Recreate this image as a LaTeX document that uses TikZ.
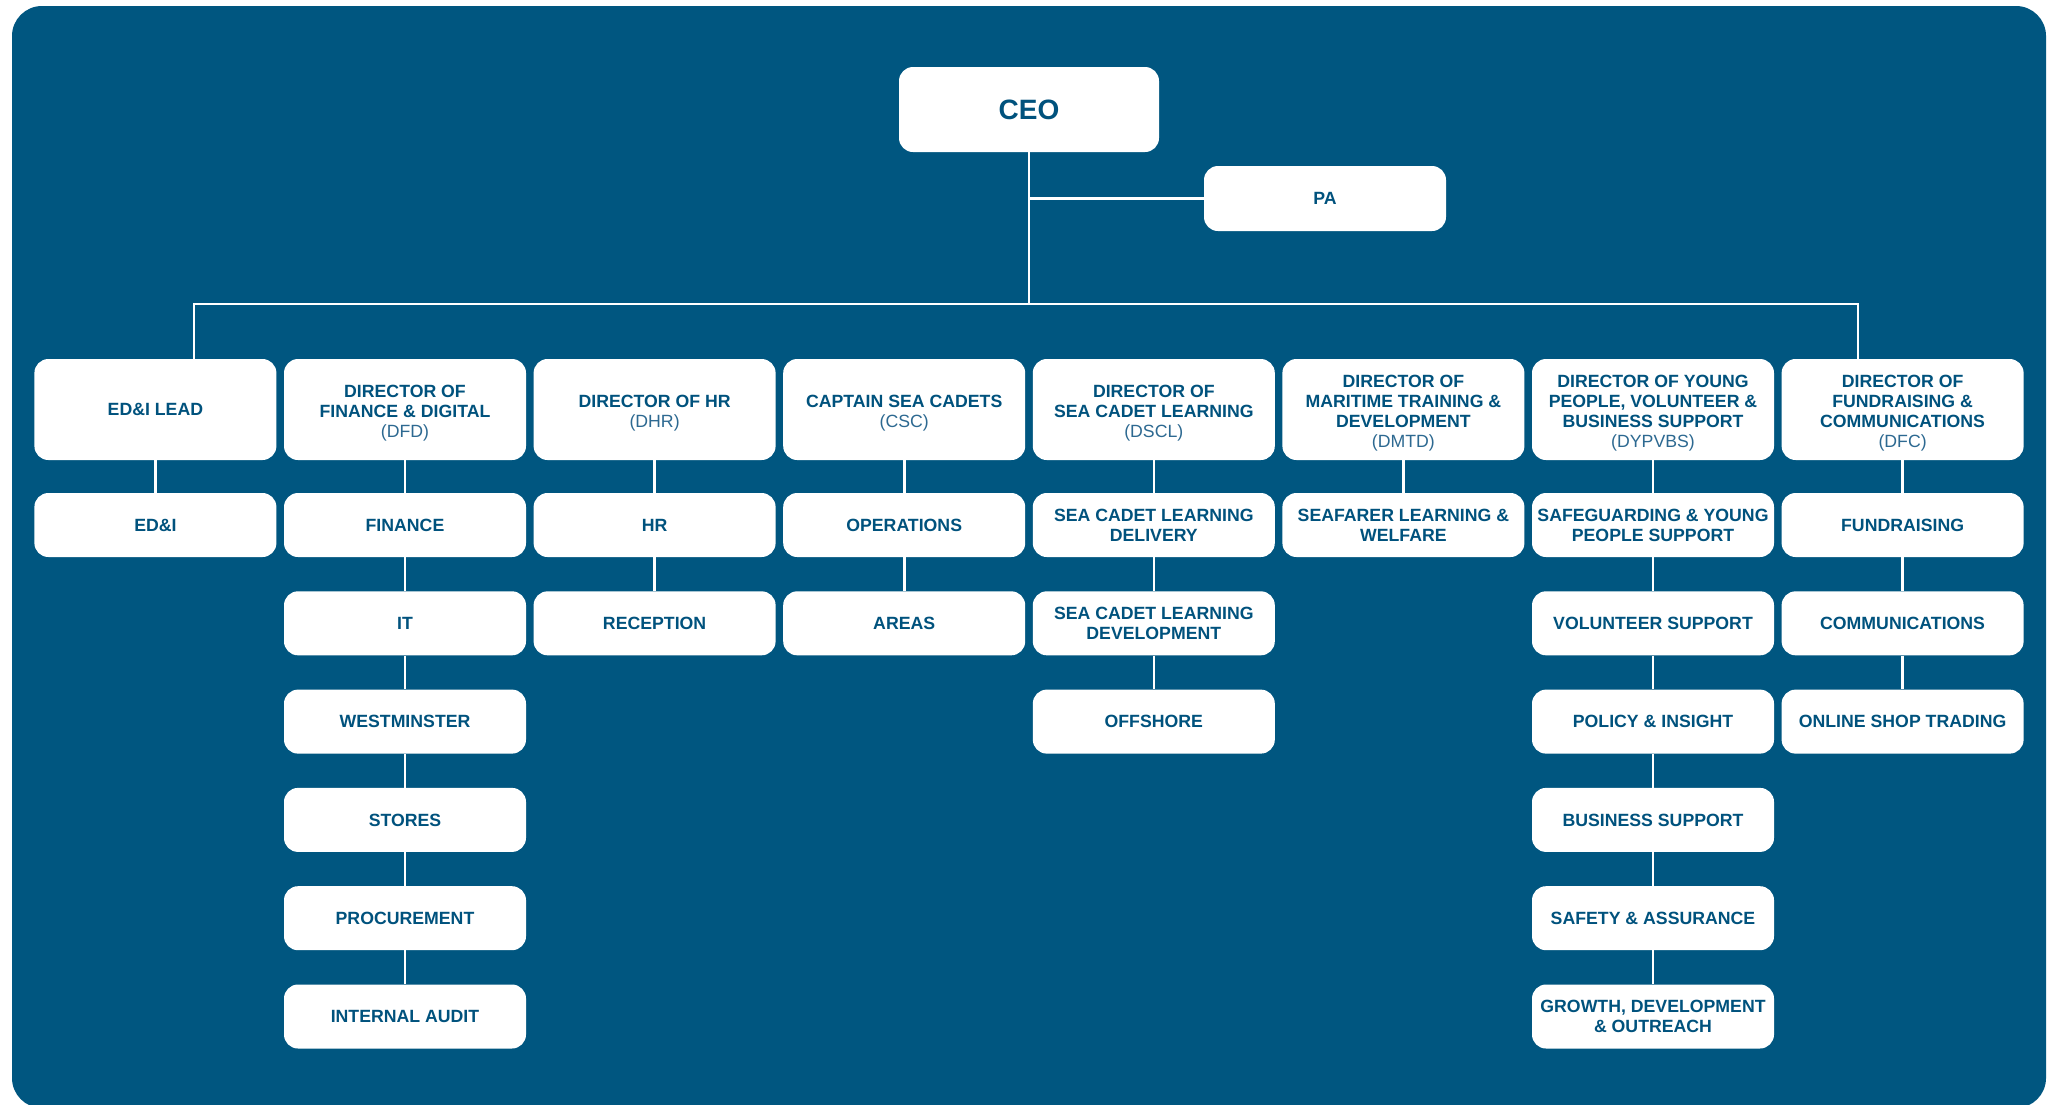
\documentclass[tikz,border=0pt]{standalone}
\usepackage{fontspec}
\setmainfont{Liberation Sans}
\definecolor{bg}{RGB}{0,86,128}
\definecolor{txt}{RGB}{0,82,125}
\definecolor{abbr}{RGB}{45,105,145}
\tikzset{
  box/.style={fill=white, rounded corners=14pt, minimum width=242pt, inner sep=0pt,
    align=center, text=txt, font=\bfseries\fontsize{17.7}{20}\selectfont},
  dirbox/.style={box, minimum height=101pt},
  subbox/.style={box, minimum height=64pt},
  link/.style={draw=white, line width=2.6pt},
}
\newcommand{\abv}[1]{{\mdseries\color{abbr}#1}}
\newcommand{\lowr}{\rule{0pt}{19pt}}
\begin{document}
\begin{tikzpicture}[x=1pt,y=-1pt]
\useasboundingbox (0,0) rectangle (2055,1104);
\begin{scope}
  \clip (0,0) rectangle (2055,1104);
  \fill[white] (0,0) rectangle (2055,1104);
  \fill[bg, rounded corners=30pt] (12,6) rectangle (2046,1108);
\end{scope}

% CEO and PA
\node[box, minimum width=260pt, minimum height=85pt, font=\bfseries\fontsize{28}{32}\selectfont] (ceo) at (1029,109.5) {CEO};
\node[box, minimum height=65pt] (pa) at (1325,198.5) {PA};

% Directors
\node[dirbox] (edl)  at (155.4,409.5)  {ED\&I LEAD};
\node[dirbox] (dfd)  at (405.0,409.5)  {\lowr DIRECTOR OF\\FINANCE \& DIGITAL\\\abv{(DFD)}};
\node[dirbox] (dhr)  at (654.6,409.5)  {\lowr DIRECTOR OF HR\\\abv{(DHR)}};
\node[dirbox] (csc)  at (904.2,409.5)  {\lowr CAPTAIN SEA CADETS\\\abv{(CSC)}};
\node[dirbox] (dscl) at (1153.8,409.5) {\lowr DIRECTOR OF\\SEA CADET LEARNING\\\abv{(DSCL)}};
\node[dirbox] (dmtd) at (1403.4,409.5) {\lowr DIRECTOR OF\\MARITIME TRAINING \&\\DEVELOPMENT\\\abv{(DMTD)}};
\node[dirbox] (dyp)  at (1653.0,409.5) {\lowr DIRECTOR OF YOUNG\\PEOPLE, VOLUNTEER \&\\BUSINESS SUPPORT\\\abv{(DYPVBS)}};
\node[dirbox] (dfc)  at (1902.6,409.5) {\lowr DIRECTOR OF\\FUNDRAISING \&\\COMMUNICATIONS\\\abv{(DFC)}};

% Column 0
\node[subbox] (edi) at (155.4,525) {ED\&I};
% Column 1
\node[subbox] (fin)  at (405,525)   {FINANCE};
\node[subbox] (it)   at (405,623.3) {IT};
\node[subbox] (west) at (405,721.6) {WESTMINSTER};
\node[subbox] (sto)  at (405,819.9) {STORES};
\node[subbox] (proc) at (405,918.2) {PROCUREMENT};
\node[subbox] (ia)   at (405,1016.5) {INTERNAL AUDIT};
% Column 2
\node[subbox] (hr)  at (654.6,525)   {HR};
\node[subbox] (rec) at (654.6,623.3) {RECEPTION};
% Column 3
\node[subbox] (ops)   at (904.2,525)   {OPERATIONS};
\node[subbox] (areas) at (904.2,623.3) {AREAS};
% Column 4
\node[subbox] (scld) at (1153.8,525)   {SEA CADET LEARNING\\DELIVERY};
\node[subbox] (scdv) at (1153.8,623.3) {SEA CADET LEARNING\\DEVELOPMENT};
\node[subbox] (off)  at (1153.8,721.6) {OFFSHORE};
% Column 5
\node[subbox] (sea) at (1403.4,525) {SEAFARER LEARNING \&\\WELFARE};
% Column 6
\node[subbox] (saf)  at (1653,525)    {SAFEGUARDING \& YOUNG\\PEOPLE SUPPORT};
\node[subbox] (vol)  at (1653,623.3)  {VOLUNTEER SUPPORT};
\node[subbox] (pol)  at (1653,721.6)  {POLICY \& INSIGHT};
\node[subbox] (bus)  at (1653,819.9)  {BUSINESS SUPPORT};
\node[subbox] (sa)   at (1653,918.2)  {SAFETY \& ASSURANCE};
\node[subbox] (gdo)  at (1653,1016.5) {GROWTH, DEVELOPMENT\\\& OUTREACH};
% Column 7
\node[subbox] (fund) at (1902.6,525)   {FUNDRAISING};
\node[subbox] (comm) at (1902.6,623.3) {COMMUNICATIONS};
\node[subbox] (shop) at (1902.6,721.6) {ONLINE SHOP TRADING};

% Connectors
\coordinate (busL) at (194,304);
\coordinate (busR) at (1858,304);
\draw[link] (ceo.south) -- (ceo.south |- busL);
\draw[link] (ceo.south |- pa.west) -- (pa.west);
\draw[link] (edl.north -| busL) -- (busL) -- (busR) -- (dfc.north -| busR);

\draw[link] (edl.south) -- (edi.north);
\draw[link] (dfd.south) -- (fin.north);
\draw[link] (fin.south) -- (it.north);
\draw[link] (it.south) -- (west.north);
\draw[link] (west.south) -- (sto.north);
\draw[link] (sto.south) -- (proc.north);
\draw[link] (proc.south) -- (ia.north);
\draw[link] (dhr.south) -- (hr.north);
\draw[link] (hr.south) -- (rec.north);
\draw[link] (csc.south) -- (ops.north);
\draw[link] (ops.south) -- (areas.north);
\draw[link] (dscl.south) -- (scld.north);
\draw[link] (scld.south) -- (scdv.north);
\draw[link] (scdv.south) -- (off.north);
\draw[link] (dmtd.south) -- (sea.north);
\draw[link] (dyp.south) -- (saf.north);
\draw[link] (saf.south) -- (vol.north);
\draw[link] (vol.south) -- (pol.north);
\draw[link] (pol.south) -- (bus.north);
\draw[link] (bus.south) -- (sa.north);
\draw[link] (sa.south) -- (gdo.north);
\draw[link] (dfc.south) -- (fund.north);
\draw[link] (fund.south) -- (comm.north);
\draw[link] (comm.south) -- (shop.north);
\end{tikzpicture}
\end{document}
